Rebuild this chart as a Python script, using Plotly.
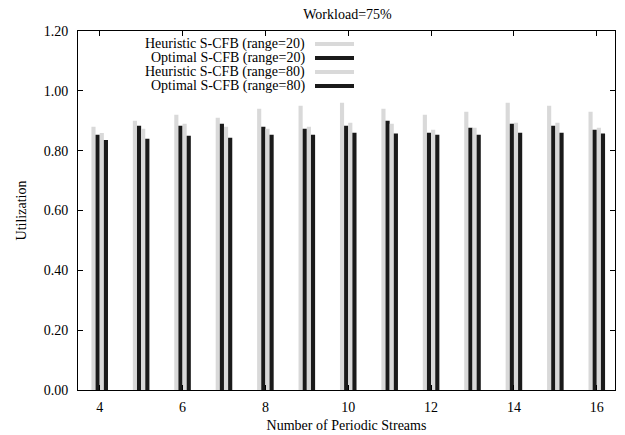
import plotly.graph_objects as go

streams = [4, 5, 6, 7, 8, 9, 10, 11, 12, 13, 14, 15, 16]
heur_20 = [0.880, 0.900, 0.920, 0.910, 0.940, 0.950, 0.960, 0.940, 0.920, 0.930, 0.960, 0.950, 0.930]
opt_20 = [0.853, 0.883, 0.883, 0.890, 0.880, 0.873, 0.883, 0.900, 0.860, 0.877, 0.890, 0.883, 0.870]
heur_80 = [0.859, 0.873, 0.890, 0.880, 0.873, 0.880, 0.893, 0.890, 0.870, 0.877, 0.893, 0.893, 0.877]
opt_80 = [0.836, 0.840, 0.850, 0.843, 0.853, 0.853, 0.860, 0.857, 0.853, 0.853, 0.860, 0.860, 0.857]

series_names = ["Heuristic S-CFB (range=20)", "Optimal S-CFB (range=20)",
                "Heuristic S-CFB (range=80)", "Optimal S-CFB (range=80)"]
series_values = [heur_20, opt_20, heur_80, opt_80]
series_colors = ["#d9d9d9", "#1a1a1a", "#d9d9d9", "#1a1a1a"]

y_ticks = [0.0, 0.2, 0.4, 0.6, 0.8, 1.0, 1.2]
y_ticklabels = ["0.00", "0.20", "0.40", "0.60", "0.80", "1.00", "1.20"]
x_ticks = [4, 6, 8, 10, 12, 14, 16]

FONT = "Liberation Serif, Times New Roman, serif"

# the page body has an 8px default margin, so the figure is drawn 8px in
OFF = 8
WIN_W, WIN_H = 625, 435
W, H = WIN_W - OFF, WIN_H - OFF
# plot area in window pixels: left 78, right 615, top 31, bottom 390
L, T = 78 - OFF, 31 - OFF
R = W - (615 - OFF)
B = H - (390 - OFF)
PW, PH = W - L - R, H - T - B


def px_x(px):
    return (px - OFF - L) / PW


def px_y(py):
    return (H - B - (py - OFF)) / PH


fig = go.Figure()
for name, vals, col in zip(series_names, series_values, series_colors):
    fig.add_trace(go.Bar(x=streams, y=vals, name=name, marker_color=col,
                         marker_line_width=0, showlegend=False))

# gnuplot-style key: right-aligned text followed by a sample line
row_px = [44, 58, 72, 86]
for name, col, py in zip(series_names, series_colors, row_px):
    yy = px_y(py)
    fig.add_annotation(x=px_x(306), y=yy, xref="paper", yref="paper", text=name,
                       showarrow=False, xanchor="right", yanchor="middle", borderpad=0,
                       font=dict(family=FONT, size=14, color="black"))
    fig.add_shape(type="line", xref="paper", yref="paper", x0=px_x(315), x1=px_x(354),
                  y0=yy, y1=yy, line=dict(color=col, width=4))

axis_common = dict(showline=True, linecolor="black", linewidth=1, mirror="ticks",
                   ticks="inside", tickcolor="black", tickwidth=1, showgrid=False,
                   zeroline=False, automargin=False,
                   tickfont=dict(family=FONT, size=14, color="black"))

fig.update_xaxes(range=[3.476, 16.44], tickvals=x_ticks, ticklen=5,
                 title=dict(text="Number of Periodic Streams", standoff=6,
                            font=dict(family=FONT, size=14, color="black")),
                 ticklabelstandoff=4, **axis_common)
fig.update_yaxes(range=[0, 1.2], tickvals=y_ticks, ticktext=y_ticklabels, ticklen=5,
                 title=dict(text="Utilization", standoff=13,
                            font=dict(family=FONT, size=14, color="black")),
                 ticklabelstandoff=6, **axis_common)

fig.update_layout(
    width=W, height=H,
    margin=dict(l=L, r=R, t=T, b=B, autoexpand=False),
    barmode="group", bargap=0.6, bargroupgap=0,
    paper_bgcolor="white", plot_bgcolor="white",
    title=dict(text="Workload=75%", x=(347.5 - OFF) / W, xanchor="center",
               y=1 - (14 - OFF) / H, yanchor="middle", automargin=False,
               font=dict(family=FONT, size=14, color="black")),
    font=dict(family=FONT, size=14, color="black"),
)

fig.write_html("out.html")
